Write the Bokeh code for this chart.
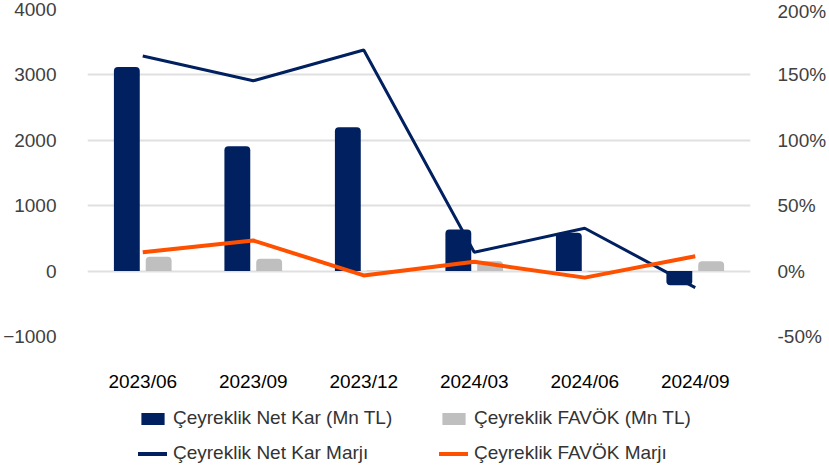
from bokeh.plotting import figure
from bokeh.layouts import column
from bokeh.models import (Range1d, LinearAxis, FixedTicker, Legend, LegendItem,
                          ColumnDataSource, FactorRange)
from bokeh.transform import dodge
from bokeh.embed import file_html
from bokeh.resources import INLINE

# ---- data ----
periods = ["2023/06", "2023/09", "2023/12", "2024/03", "2024/06", "2024/09"]
net_kar = [3120, 1910, 2200, 635, 585, -215]          # Çeyreklik Net Kar (Mn TL)
favok = [220, 190, 8, 152, -15, 152]                   # Çeyreklik FAVÖK (Mn TL)
net_kar_marji = [164.4, 145.5, 169.0, 14.4, 32.8, -12.6]  # %
favok_marji = [14.4, 23.4, -3.3, 7.1, -5.0, 11.3]          # %
left_ticks = [-1000, 0, 1000, 2000, 3000, 4000]
right_ticks = [-50, 0, 50, 100, 150, 200]
right_tick_labels = ["-50%", "0%", "50%", "100%", "150%", "200%"]
legend_labels = ["Çeyreklik Net Kar (Mn TL)", "Çeyreklik FAVÖK (Mn TL)",
                 "Çeyreklik Net Kar Marjı", "Çeyreklik FAVÖK Marjı"]

NAVY = "#002060"
GRAY = "#bfbfbf"
ORANGE = "#ff5000"
FONT = "Liberation Sans"
FS = "19px"
W = 829

p = figure(x_range=FactorRange(factors=periods), y_range=Range1d(-1000, 4000),
           width=W, height=394, output_backend="svg", toolbar_location=None,
           min_border_left=86, min_border_right=77, min_border_top=9,
           min_border_bottom=56)
p.extra_y_ranges = {"pct": Range1d(-50, 200)}
p.outline_line_color = None


def split(vals, positive):
    xs = [c for c, v in zip(periods, vals) if (v >= 0) == positive]
    ys = [v for v in vals if (v >= 0) == positive]
    return ColumnDataSource(dict(x=xs, top=ys))


def bars(vals, offset, color):
    for positive, radius in ((True, (4, 4, 0, 0)), (False, (0, 0, 4, 4))):
        src = split(vals, positive)
        p.vbar(x=dodge("x", offset, range=p.x_range), top="top", bottom=0,
               width=0.234, source=src, fill_color=color, line_color=None,
               border_radius=radius)


bars(net_kar, -0.144, NAVY)
bars(favok, 0.144, GRAY)

p.line(x=periods, y=net_kar_marji, y_range_name="pct", line_color=NAVY, line_width=3)
p.line(x=periods, y=favok_marji, y_range_name="pct", line_color=ORANGE, line_width=4)


# ---- axes ----
def style_axis(ax, color):
    ax.axis_line_color = None
    ax.major_tick_line_color = None
    ax.minor_tick_line_color = None
    ax.major_tick_out = 0
    ax.major_tick_in = 0
    ax.major_label_text_font = FONT
    ax.major_label_text_font_size = FS
    ax.major_label_text_color = color


yax = p.yaxis[0]
yax.ticker = FixedTicker(ticks=left_ticks)
style_axis(yax, "#404040")
yax.major_label_standoff = 31

rax = LinearAxis(y_range_name="pct", ticker=FixedTicker(ticks=right_ticks),
                 major_label_overrides={t: l for t, l in zip(right_ticks, right_tick_labels)})
style_axis(rax, "#404040")
rax.major_label_standoff = 27
p.add_layout(rax, "right")

xax = p.xaxis[0]
style_axis(xax, "#000000")
xax.major_label_standoff = 34

p.xgrid.visible = False
p.ygrid.ticker = FixedTicker(ticks=left_ticks)
p.ygrid.grid_line_color = "#e0e0e0"
p.ygrid.grid_line_width = 2

# ---- legend (own strip below the chart; swatch renderers sit outside its view) ----
lg = figure(width=W, height=76, output_backend="svg", toolbar_location=None,
            x_range=Range1d(0, 1), y_range=Range1d(0, 1),
            x_axis_location=None, y_axis_location=None,
            min_border_left=0, min_border_right=0, min_border_top=0, min_border_bottom=0)
lg.outline_line_color = None
lg.grid.visible = False
off = dict(x=[-5, -4], y=[-5, -5])
g_net = lg.vbar(x=off["x"], top=off["y"], width=0.1, fill_color=NAVY, line_color=None)
g_fav = lg.vbar(x=off["x"], top=off["y"], width=0.1, fill_color=GRAY, line_color=None)
g_net_l = lg.line(x=off["x"], y=off["y"], line_color=NAVY, line_width=4, line_cap="round")
g_fav_l = lg.line(x=off["x"], y=off["y"], line_color=ORANGE, line_width=4, line_cap="round")

legend = Legend(items=[LegendItem(label=lab, renderers=[r]) for lab, r in
                       zip(legend_labels, [g_net, g_fav, g_net_l, g_fav_l])],
                orientation="horizontal", ncols=2)
legend.label_text_font = FONT
legend.label_text_font_size = FS
legend.label_text_color = "#333333"
legend.glyph_width = 29
legend.glyph_height = 15
legend.label_standoff = 6
legend.label_height = 22
legend.label_width = 253
legend.spacing = 13
legend.padding = 0
legend.margin = 0
legend.border_line_color = None
legend.background_fill_alpha = 0
legend.location = (51, 6)
lg.add_layout(legend, "center")

layout = column(p, lg, spacing=0)
open("out.html", "w").write(file_html(layout, INLINE))
